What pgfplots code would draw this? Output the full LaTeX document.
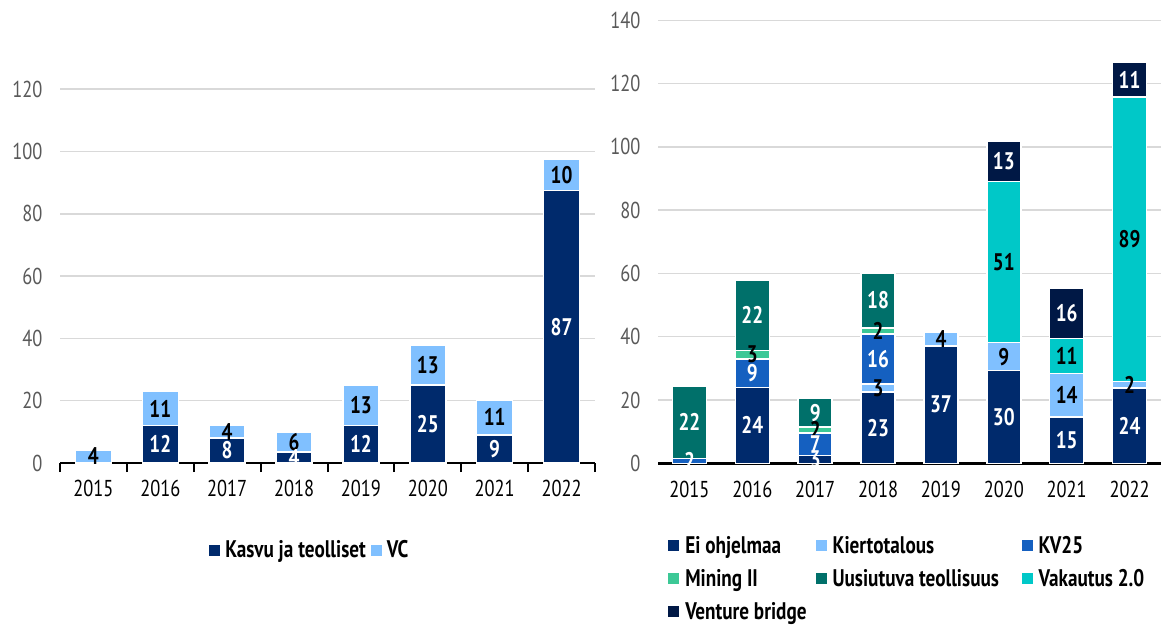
\documentclass[border=0pt]{standalone}
\usepackage{fontspec}
\setmainfont{PT Sans}[FakeStretch=0.8]
\usepackage{pgfplots}
\usepackage{pgfplotstable}
\pgfplotsset{compat=1.18}
\definecolor{cnavy}{HTML}{002A6C}
\definecolor{clight}{HTML}{80C0FF}
\definecolor{cblue}{HTML}{1560C0}
\definecolor{cmint}{HTML}{3CC896}
\definecolor{cteal}{HTML}{00706A}
\definecolor{ccyan}{HTML}{00C8C8}
\definecolor{cdark}{HTML}{001845}
\definecolor{cgrid}{HTML}{D9D9D9}
\definecolor{ctick}{HTML}{595959}

\newcommand{\tickfont}{\fontsize{23}{27}\selectfont}
\newcommand{\labfont}{\fontsize{24}{28}\selectfont\bfseries}
\newcommand{\legfont}{\fontsize{24}{28}\selectfont\bfseries}

\pgfplotsset{
  seg/.style={fill=#1, draw=white, line width=1.5pt},
  midlab/.style={
    nodes near coords,
    point meta=explicit symbolic,
    every node near coord/.style={anchor=center, inner sep=0pt, text=#1, font=\labfont},
  },
  common/.style={
    scale only axis,
    ybar stacked,
    clip=false,
    ymin=0,
    xmin=-0.5, xmax=7.5,
    xtick={0,...,7},
    xticklabels={2015,2016,2017,2018,2019,2020,2021,2022},
    axis x line*=bottom,
    x axis line style={draw=none},
    axis y line*=left,
    y axis line style={draw=none},
    ymajorgrids,
    grid style={cgrid, line width=1.5pt},
    major tick length=0pt,
    tick label style={font=\tickfont},
    yticklabel style={text=ctick, xshift=-14pt},
    xticklabel style={text=black, yshift=-14pt},
    /pgf/number format/assume math mode=true,
    legend cell align=left,
    legend image code/.code={\fill[##1, draw=none] (0pt,-5.5pt) rectangle (11pt,5.5pt);},
  },
}

\pgfplotstableread{
x kasvu kl vc vl
0 0 {} 4.2 4
1 12 12 11 11
2 8 8 4 4
3 3.5 4 6.3 6
4 12 12 13 13
5 25 25 12.7 13
6 9 9 11.3 11
7 87.4 87 10 10
}\lefttab

\pgfplotstableread{
x ei eil ki kil kv kvl mi mil uu uul va val ve vel
0 0 {} 0 {} 1.5 2 0 {} 22.9 22 0 {} 0 {}
1 24 24 0 {} 9 9 2.7 3 22.1 22 0 {} 0 {}
2 2.5 3 0 {} 7 7 2 2 9 9 0 {} 0 {}
3 22.5 23 2.5 3 15.8 16 1.9 2 17.5 18 0 {} 0 {}
4 37 37 4.5 4 0 {} 0 {} 0 {} 0 {} 0 {}
5 29.3 30 8.8 9 0 {} 0 {} 0 {} 51 51 12.8 13
6 14.6 15 13.8 14 0 {} 0 {} 0 {} 11 11 16 16
7 23.8 24 2 2 0 {} 0 {} 0 {} 89.9 89 11 11
}\righttab

\begin{document}
\begin{tikzpicture}[x=1pt,y=1pt]
\path[use as bounding box] (0,0) rectangle (1161,625);

% ---------- left chart ----------
\begin{axis}[common,
  at={(60pt,162pt)}, anchor=south west,
  width=535pt, height=405pt,
  ymax=130, ytick={0,20,...,120},
  bar width=36pt,
  extra x ticks={-0.5,0.5,...,7.5},
  extra x tick labels={},
  extra x tick style={major tick length=9pt, tick style={black, line width=2pt}, tick align=outside, xmajorgrids=false, ymajorgrids=false},
  legend columns=2,
  legend style={at={(0.467,-0.215)}, anchor=center, draw=none, fill=none,
    font=\legfont, inner sep=0pt,
    /tikz/every odd column/.append style={column sep=3pt},
    /tikz/every even column/.append style={column sep=3pt}},
]
\addplot[seg=cnavy, midlab=white] table[x=x, y=kasvu, meta=kl] {\lefttab};
\addplot[seg=clight, midlab=black] table[x=x, y=vc, meta=vl] {\lefttab};
\legend{Kasvu ja teolliset, VC}
\draw[black, line width=2.5pt] (rel axis cs:0,0) -- (rel axis cs:1,0);
\end{axis}

% ---------- right chart ----------
\begin{axis}[common,
  at={(658pt,161.7pt)}, anchor=south west,
  width=503pt, height=443pt,
  ymax=140, ytick={0,20,...,140},
  bar width=34pt,
  legend columns=3,
  legend style={at={(0.02,-0.16)}, anchor=north west, draw=none, fill=none,
    font=\legfont, inner sep=0pt, row sep=10.5pt,
    /tikz/every odd column/.append style={column sep=4pt},
    /tikz/every even column/.append style={column sep=7pt}},
]
\addplot[seg=cnavy, midlab=white] table[x=x, y=ei, meta=eil] {\righttab};
\addplot[seg=clight, midlab=black] table[x=x, y=ki, meta=kil] {\righttab};
\addplot[seg=cblue, midlab=white] table[x=x, y=kv, meta=kvl] {\righttab};
\addplot[seg=cmint, midlab=black] table[x=x, y=mi, meta=mil] {\righttab};
\addplot[seg=cteal, midlab=white] table[x=x, y=uu, meta=uul] {\righttab};
\addplot[seg=ccyan, midlab=black] table[x=x, y=va, meta=val] {\righttab};
\addplot[seg=cdark, midlab=white] table[x=x, y=ve, meta=vel] {\righttab};
\legend{\makebox[109pt][l]{Ei ohjelmaa}, \makebox[180pt][l]{Kiertotalous}, KV25,
  Mining II, Uusiutuva teollisuus, Vakautus 2.0, Venture bridge}
\draw[black, line width=2.5pt] (rel axis cs:0,0) -- (rel axis cs:1,0);
\end{axis}
\end{tikzpicture}
\end{document}
